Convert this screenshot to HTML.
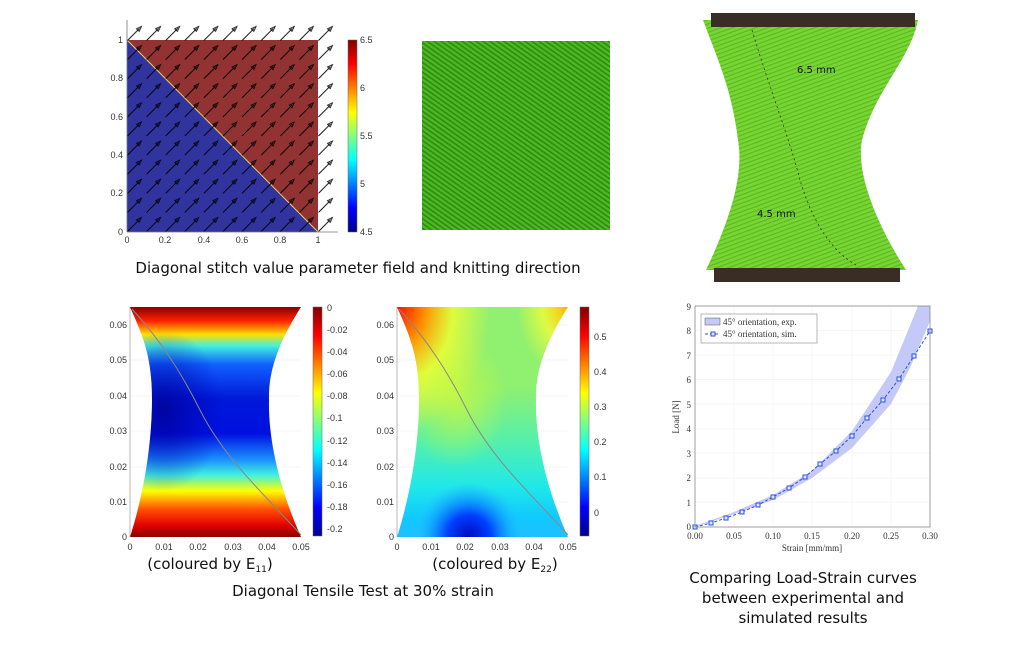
<!DOCTYPE html>
<html><head><meta charset="utf-8"><style>
body{margin:0;background:#fff;}
svg{display:block;font-family:"Liberation Sans",sans-serif;}
.t{font-size:9px;fill:#333;}
.cap{font-family:"DejaVu Sans","Liberation Sans",sans-serif;font-size:15px;fill:#111;}
.ser{font-family:"Liberation Serif",serif;font-size:9px;fill:#333;}
</style></head><body>
<svg width="1024" height="650" viewBox="0 0 1024 650">
<defs>
<pattern id="arr" patternUnits="userSpaceOnUse" x="127" y="21.9" width="19.1" height="19.1">
<line x1="0.5" y1="18.6" x2="12.5" y2="6.5" stroke="#000" stroke-width="0.9"/>
<path d="M14.5,4.5 L9.5,6.8 L12.2,9.5 Z" fill="none" stroke="#000" stroke-width="0.8"/>
</pattern>
<linearGradient id="jet" x1="0" y1="1" x2="0" y2="0">
<stop offset="0" stop-color="#00008f"/><stop offset="0.125" stop-color="#0000ff"/><stop offset="0.375" stop-color="#00ffff"/><stop offset="0.625" stop-color="#ffff00"/><stop offset="0.875" stop-color="#ff0000"/><stop offset="1" stop-color="#800000"/>
</linearGradient>
<linearGradient id="e11" x1="0" y1="0" x2="0" y2="1">
<stop offset="0" stop-color="#8a0000"/><stop offset="0.06" stop-color="#ff2000"/><stop offset="0.12" stop-color="#ffe000"/><stop offset="0.17" stop-color="#40f0e0"/><stop offset="0.25" stop-color="#1060ff"/><stop offset="0.4" stop-color="#0018d8"/><stop offset="0.55" stop-color="#0010e0"/><stop offset="0.66" stop-color="#1a8cff"/><stop offset="0.73" stop-color="#40f0e0"/><stop offset="0.8" stop-color="#ffff00"/><stop offset="0.88" stop-color="#ff5000"/><stop offset="0.95" stop-color="#e00000"/><stop offset="1" stop-color="#8a0000"/>
</linearGradient>
<radialGradient id="e11b" cx="0.2" cy="0.45" r="0.35">
<stop offset="0" stop-color="#000090" stop-opacity="0.8"/><stop offset="1" stop-color="#0000c0" stop-opacity="0"/>
</radialGradient>
<linearGradient id="e22" x1="0" y1="0" x2="0" y2="1">
<stop offset="0" stop-color="#90f070"/><stop offset="0.35" stop-color="#90f070"/><stop offset="0.6" stop-color="#50f0b0"/><stop offset="0.78" stop-color="#20e8e8"/><stop offset="0.92" stop-color="#10c8ff"/><stop offset="1" stop-color="#20c0ff"/>
</linearGradient>
<radialGradient id="e22b" cx="0.42" cy="1" r="0.32" gradientTransform="translate(0.42,1) scale(1,0.75) translate(-0.42,-1)">
<stop offset="0" stop-color="#0008c0"/><stop offset="0.4" stop-color="#0040ff"/><stop offset="0.75" stop-color="#10a0ff" stop-opacity="0.6"/><stop offset="1" stop-color="#20c0ff" stop-opacity="0"/>
</radialGradient>
<radialGradient id="e22m" cx="0.35" cy="0.4" r="0.3">
<stop offset="0" stop-color="#c8f840" stop-opacity="0.8"/><stop offset="1" stop-color="#c8f840" stop-opacity="0"/>
</radialGradient>
<radialGradient id="e22a" cx="0" cy="0" r="0.55">
<stop offset="0" stop-color="#ff1000"/><stop offset="0.3" stop-color="#ff9000"/><stop offset="0.6" stop-color="#f0ff30" stop-opacity="0.8"/><stop offset="1" stop-color="#f0ff30" stop-opacity="0"/>
</radialGradient>
<radialGradient id="e22c" cx="1" cy="0" r="0.3">
<stop offset="0" stop-color="#ffb000"/><stop offset="0.5" stop-color="#ffff30" stop-opacity="0.7"/><stop offset="1" stop-color="#ffff30" stop-opacity="0"/>
</radialGradient>
<pattern id="knit" patternUnits="userSpaceOnUse" width="4" height="4" patternTransform="rotate(35)">
<rect width="4" height="4" fill="#4cb822"/><rect width="4" height="1.6" fill="#2f8a12"/>
</pattern>
<pattern id="knit2" patternUnits="userSpaceOnUse" width="4" height="4" patternTransform="rotate(-20)">
<rect width="4" height="4" fill="#7edb35"/><rect width="4" height="1.2" fill="#5aa826"/>
</pattern>
<clipPath id="c1"><path d="M130,307 L301,307 C280,340 268,370 269,400 C268,440 280,490 301,537 L130,537 C145,490 152,440 152,400 C152,360 145,340 130,307 Z"/></clipPath>
<clipPath id="c2"><path d="M397,307 L568,307 C547,340 535,370 536,400 C535,440 547,490 568,537 L397,537 C412,490 419,440 419,400 C419,360 412,340 397,307 Z"/></clipPath>
</defs>

<!-- Top-left field plot -->
<polygon points="127,40 318,40 318,232" fill="#933232"/>
<polygon points="127,40 318,232 127,232" fill="#31349f"/>
<line x1="127" y1="40" x2="318" y2="232" stroke="#e6d060" stroke-width="1"/>
<rect x="127" y="21.9" width="210" height="210" fill="url(#arr)"/>
<line x1="127" y1="20" x2="127" y2="232" stroke="#777" stroke-width="0.8"/>
<line x1="127" y1="232" x2="338" y2="232" stroke="#777" stroke-width="0.8"/>
<g class="t" text-anchor="end">
<text x="123" y="43">1</text><text x="123" y="81">0.8</text><text x="123" y="120">0.6</text><text x="123" y="158">0.4</text><text x="123" y="196">0.2</text><text x="123" y="235">0</text></g>
<g class="t" text-anchor="middle">
<text x="127" y="243">0</text><text x="165" y="243">0.2</text><text x="204" y="243">0.4</text><text x="242" y="243">0.6</text><text x="280" y="243">0.8</text><text x="318" y="243">1</text></g>
<rect x="348" y="40" width="9" height="192" fill="url(#jet)" stroke="#666" stroke-width="0.5"/>
<g class="t"><text x="360" y="43">6.5</text><text x="360" y="91">6</text><text x="360" y="139">5.5</text><text x="360" y="187">5</text><text x="360" y="235">4.5</text></g>

<!-- knitted square -->
<rect x="422" y="41" width="188" height="189" fill="url(#knit)"/>

<!-- photo -->
<path d="M703,20 L918,20 C910,60 875,90 862,140 C855,175 880,230 906,270 L706,270 C725,230 745,180 738,140 C732,90 718,60 703,20 Z" fill="url(#knit2)"/>
<path d="M703,20 L918,20 C910,60 875,90 862,140 C855,175 880,230 906,270 L706,270 C725,230 745,180 738,140 C732,90 718,60 703,20 Z" fill="#6ad22a" opacity="0.35"/>
<rect x="711" y="13" width="204" height="14" fill="#3a2d26"/>
<rect x="714" y="268" width="186" height="14" fill="#3a2d26"/>
<path d="M752,30 C770,90 790,140 800,180 C812,220 830,250 856,265" fill="none" stroke="#333" stroke-width="0.8" stroke-dasharray="2,3"/>
<text x="797" y="73" style="font-family:'DejaVu Sans',sans-serif;font-size:10px" fill="#111">6.5 mm</text>
<text x="757" y="217" style="font-family:'DejaVu Sans',sans-serif;font-size:10px" fill="#111">4.5 mm</text>

<text x="358" y="273" class="cap" text-anchor="middle">Diagonal stitch value parameter field and knitting direction</text>

<!-- contour 1 -->
<g stroke="#eee" stroke-width="0.6">
<line x1="130" y1="325" x2="301" y2="325"/><line x1="130" y1="360" x2="301" y2="360"/><line x1="130" y1="396" x2="301" y2="396"/><line x1="130" y1="431" x2="301" y2="431"/><line x1="130" y1="467" x2="301" y2="467"/><line x1="130" y1="502" x2="301" y2="502"/>
</g>
<g clip-path="url(#c1)">
<rect x="130" y="307" width="171" height="230" fill="url(#e11)"/>
<rect x="130" y="307" width="171" height="230" fill="url(#e11b)"/>
</g>
<path d="M132,309 C160,340 180,370 200,410 C225,460 270,500 301,535" fill="none" stroke="#888" stroke-width="1"/>
<line x1="130" y1="307" x2="130" y2="537" stroke="#888" stroke-width="0.6"/>
<g class="t" text-anchor="end">
<text x="127" y="328">0.06</text><text x="127" y="363">0.05</text><text x="127" y="399">0.04</text><text x="127" y="434">0.03</text><text x="127" y="470">0.02</text><text x="127" y="505">0.01</text><text x="127" y="540">0</text></g>
<g class="t" text-anchor="middle">
<text x="130" y="550">0</text><text x="164" y="550">0.01</text><text x="198" y="550">0.02</text><text x="233" y="550">0.03</text><text x="267" y="550">0.04</text><text x="301" y="550">0.05</text></g>
<rect x="313" y="307" width="9" height="229" fill="url(#jet)" stroke="#666" stroke-width="0.5"/>
<g class="t">
<text x="327" y="311">0</text><text x="327" y="333">-0.02</text><text x="327" y="355">-0.04</text><text x="327" y="377">-0.06</text><text x="327" y="399">-0.08</text><text x="327" y="421">-0.1</text><text x="327" y="444">-0.12</text><text x="327" y="466">-0.14</text><text x="327" y="488">-0.16</text><text x="327" y="510">-0.18</text><text x="327" y="532">-0.2</text></g>
<text x="210" y="569" class="cap" text-anchor="middle">(coloured by E<tspan font-size="9" dy="3">11</tspan><tspan dy="-3">)</tspan></text>

<!-- contour 2 -->
<g stroke="#eee" stroke-width="0.6">
<line x1="397" y1="325" x2="568" y2="325"/><line x1="397" y1="360" x2="568" y2="360"/><line x1="397" y1="396" x2="568" y2="396"/><line x1="397" y1="431" x2="568" y2="431"/><line x1="397" y1="467" x2="568" y2="467"/><line x1="397" y1="502" x2="568" y2="502"/>
</g>
<g clip-path="url(#c2)">
<rect x="397" y="307" width="171" height="230" fill="url(#e22)"/>
<rect x="397" y="307" width="171" height="230" fill="url(#e22m)"/>
<rect x="397" y="307" width="171" height="230" fill="url(#e22b)"/>
<rect x="397" y="307" width="171" height="230" fill="url(#e22a)"/>
<rect x="397" y="307" width="171" height="230" fill="url(#e22c)"/>
</g>
<path d="M399,309 C427,340 447,370 467,410 C492,460 537,500 568,535" fill="none" stroke="#888" stroke-width="1"/>
<line x1="397" y1="307" x2="397" y2="537" stroke="#888" stroke-width="0.6"/>
<g class="t" text-anchor="end">
<text x="394" y="328">0.06</text><text x="394" y="363">0.05</text><text x="394" y="399">0.04</text><text x="394" y="434">0.03</text><text x="394" y="470">0.02</text><text x="394" y="505">0.01</text><text x="394" y="540">0</text></g>
<g class="t" text-anchor="middle">
<text x="397" y="550">0</text><text x="431" y="550">0.01</text><text x="465" y="550">0.02</text><text x="500" y="550">0.03</text><text x="534" y="550">0.04</text><text x="568" y="550">0.05</text></g>
<rect x="580" y="307" width="9" height="229" fill="url(#jet)" stroke="#666" stroke-width="0.5"/>
<g class="t">
<text x="594" y="340">0.5</text><text x="594" y="375">0.4</text><text x="594" y="410">0.3</text><text x="594" y="445">0.2</text><text x="594" y="480">0.1</text><text x="594" y="516">0</text></g>
<text x="495" y="569" class="cap" text-anchor="middle">(coloured by E<tspan font-size="9" dy="3">22</tspan><tspan dy="-3">)</tspan></text>

<text x="363" y="596" class="cap" text-anchor="middle">Diagonal Tensile Test at 30% strain</text>

<!-- Load-strain -->
<g stroke="#eee" stroke-width="0.5">
<line x1="734" y1="306" x2="734" y2="527"/><line x1="773" y1="306" x2="773" y2="527"/><line x1="812" y1="306" x2="812" y2="527"/><line x1="852" y1="306" x2="852" y2="527"/><line x1="891" y1="306" x2="891" y2="527"/>
<line x1="695" y1="330.5" x2="930" y2="330.5"/><line x1="695" y1="355" x2="930" y2="355"/><line x1="695" y1="379.7" x2="930" y2="379.7"/><line x1="695" y1="404" x2="930" y2="404"/><line x1="695" y1="429" x2="930" y2="429"/><line x1="695" y1="453" x2="930" y2="453"/><line x1="695" y1="478" x2="930" y2="478"/><line x1="695" y1="502" x2="930" y2="502"/>
</g>
<path d="M695,526 L734,512 L773,495 L812,471 L852,431 L891,372 L918,306 L930,306 L930,321 L910,368 L891,404 L852,448 L812,478 L773,500 L734,514 L695,527 Z" fill="#c5c9f8"/>
<polyline points="695,527 711,523 726,518 742,512 758,505 773,497 789,488 805,477 820,464 836,451 852,436 867,418 883,400 899,379 914,356 930,331" fill="none" stroke="#2a50e0" stroke-width="1" stroke-dasharray="3,2"/>
<g fill="#dfe6ff" stroke="#2a50e0" stroke-width="1">
<rect x="693" y="525" width="4" height="4"/><rect x="709" y="521" width="4" height="4"/><rect x="724" y="516" width="4" height="4"/><rect x="740" y="510" width="4" height="4"/><rect x="756" y="503" width="4" height="4"/><rect x="771" y="495" width="4" height="4"/><rect x="787" y="486" width="4" height="4"/><rect x="803" y="475" width="4" height="4"/><rect x="818" y="462" width="4" height="4"/><rect x="834" y="449" width="4" height="4"/><rect x="850" y="434" width="4" height="4"/><rect x="865" y="416" width="4" height="4"/><rect x="881" y="398" width="4" height="4"/><rect x="897" y="377" width="4" height="4"/><rect x="912" y="354" width="4" height="4"/><rect x="928" y="329" width="4" height="4"/>
</g>
<rect x="695" y="306" width="235" height="221" fill="none" stroke="#888" stroke-width="0.8"/>
<rect x="701" y="314" width="116" height="29" fill="#fff" stroke="#888" stroke-width="0.6"/>
<rect x="705" y="318" width="15" height="7" fill="#c5c9f8" stroke="#555" stroke-width="0.5"/>
<text x="723" y="325" class="ser">45° orientation, exp.</text>
<line x1="705" y1="334" x2="720" y2="334" stroke="#2a50e0" stroke-dasharray="3,2"/>
<rect x="711" y="332" width="4" height="4" fill="#dfe6ff" stroke="#2a50e0"/>
<text x="723" y="337" class="ser">45° orientation, sim.</text>
<g class="ser" text-anchor="end">
<text x="691" y="310">9</text><text x="691" y="334">8</text><text x="691" y="359">7</text><text x="691" y="383">6</text><text x="691" y="408">5</text><text x="691" y="432">4</text><text x="691" y="457">3</text><text x="691" y="481">2</text><text x="691" y="506">1</text><text x="691" y="530">0</text></g>
<g class="ser" text-anchor="middle">
<text x="695" y="539">0.00</text><text x="734" y="539">0.05</text><text x="773" y="539">0.10</text><text x="812" y="539">0.15</text><text x="852" y="539">0.20</text><text x="891" y="539">0.25</text><text x="930" y="539">0.30</text></g>
<text x="812" y="551" class="ser" text-anchor="middle">Strain [mm/mm]</text>
<text transform="translate(679,417) rotate(-90)" class="ser" text-anchor="middle">Load [N]</text>

<g class="cap" text-anchor="middle">
<text x="803" y="583">Comparing Load-Strain curves</text>
<text x="803" y="603">between experimental and</text>
<text x="803" y="623">simulated results</text></g>
</svg>
</body></html>
